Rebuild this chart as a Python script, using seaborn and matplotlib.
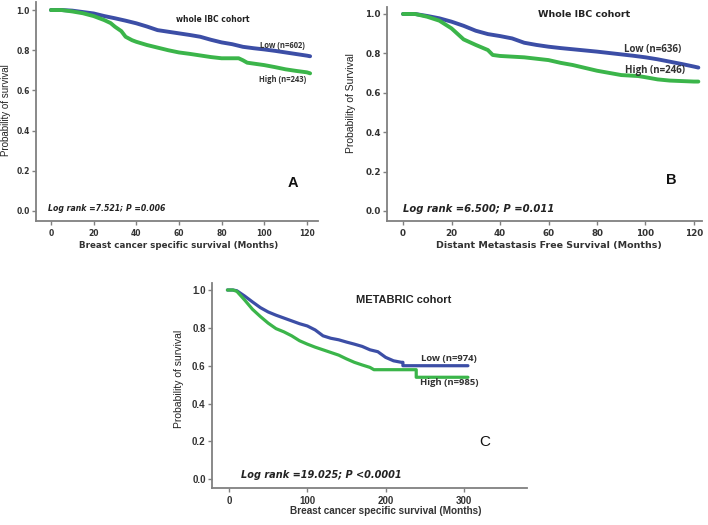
import pandas as pd
import matplotlib
matplotlib.use("Agg")
import matplotlib.pyplot as plt
import seaborn as sns

sns.set_style("ticks")
plt.rcParams['font.family'] = ['DejaVu Sans']

BLUE = '#3c4ea6'
GREEN = '#3bb54a'
GREY = '#808080'

# ---- panel A: whole IBC cohort, breast cancer specific survival
a_low_t = [0, 5, 10, 15, 20, 25, 30, 35, 40, 45, 50, 55, 60, 65, 70, 75, 80, 85, 90, 95, 100, 105, 110, 115, 120, 121.5]
a_low_s = [1.0, 1.0, 0.997, 0.99, 0.983, 0.97, 0.959, 0.947, 0.934, 0.918, 0.90, 0.892, 0.884, 0.876, 0.867, 0.852, 0.839, 0.83, 0.817, 0.81, 0.804, 0.797, 0.789, 0.781, 0.773, 0.77]
a_high_t = [0, 5, 10, 15, 20, 25, 28, 30, 33, 35, 38, 40, 45, 50, 55, 60, 65, 70, 75, 80, 88, 90, 92, 100, 105, 110, 115, 120, 121.5]
a_high_s = [1.0, 1.0, 0.993, 0.984, 0.970, 0.950, 0.935, 0.917, 0.895, 0.867, 0.85, 0.842, 0.826, 0.813, 0.80, 0.789, 0.782, 0.774, 0.766, 0.76, 0.76, 0.75, 0.738, 0.726, 0.716, 0.705, 0.697, 0.69, 0.685]

# ---- panel B: whole IBC cohort, distant metastasis free survival
b_low_t = [0, 5, 10, 15, 20, 25, 30, 35, 40, 45, 50, 55, 60, 65, 70, 75, 80, 85, 90, 95, 100, 105, 110, 115, 120, 121.8]
b_low_s = [1.0, 1.0, 0.99, 0.978, 0.961, 0.94, 0.915, 0.898, 0.888, 0.876, 0.854, 0.843, 0.834, 0.827, 0.821, 0.815, 0.809, 0.802, 0.795, 0.788, 0.78, 0.77, 0.758, 0.746, 0.733, 0.728]
b_high_t = [0, 5, 10, 15, 20, 25, 30, 35, 37, 40, 50, 60, 65, 70, 80, 90, 97, 100, 105, 110, 120, 121.8]
b_high_s = [1.0, 1.0, 0.986, 0.966, 0.927, 0.871, 0.843, 0.817, 0.792, 0.787, 0.78, 0.766, 0.752, 0.741, 0.712, 0.69, 0.685, 0.679, 0.668, 0.662, 0.657, 0.657]

# ---- panel C: METABRIC cohort
c_low_t = [-2, 5, 10, 20, 30, 40, 50, 60, 70, 80, 90, 100, 110, 120, 130, 140, 150, 160, 170, 180, 190, 200, 210, 220, 222, 222, 305]
c_low_s = [1.0, 1.0, 0.996, 0.968, 0.937, 0.907, 0.884, 0.867, 0.852, 0.837, 0.822, 0.81, 0.789, 0.758, 0.745, 0.737, 0.725, 0.714, 0.702, 0.684, 0.674, 0.644, 0.626, 0.618, 0.618, 0.60, 0.60]
c_high_t = [-2, 5, 10, 20, 30, 40, 50, 60, 70, 80, 90, 100, 110, 120, 130, 140, 150, 160, 170, 180, 185, 239, 239, 305]
c_high_s = [1.0, 1.0, 0.993, 0.947, 0.898, 0.86, 0.825, 0.796, 0.779, 0.758, 0.732, 0.714, 0.698, 0.684, 0.67, 0.656, 0.636, 0.618, 0.604, 0.591, 0.579, 0.579, 0.539, 0.539]

y_ticks = [0.0, 0.2, 0.4, 0.6, 0.8, 1.0]


def frame(t_low, s_low, t_high, s_high):
    low = pd.DataFrame({'time': t_low, 'surv': s_low, 'group': 'Low'})
    high = pd.DataFrame({'time': t_high, 'surv': s_high, 'group': 'High'})
    return pd.concat([low, high], ignore_index=True)


def px_axes(fig, left, top, right, bottom):
    W, H = 708, 525
    return fig.add_axes([left / W, 1 - bottom / H, (right - left) / W, (bottom - top) / H])


def style(ax, xlim, ylim, xticks, tickfont, ticksize):
    ax.set_xlim(*xlim)
    ax.set_ylim(*ylim)
    ax.set_xticks(xticks)
    ax.set_yticks(y_ticks)
    ax.set_yticklabels(['%.1f' % v for v in y_ticks])
    for s in ['top', 'right']:
        ax.spines[s].set_visible(False)
    for s in ['left', 'bottom']:
        ax.spines[s].set_color(GREY)
        ax.spines[s].set_linewidth(1.3)
    ax.tick_params(axis='both', colors=GREY, length=3, width=1, labelcolor='#333333')
    ax.tick_params(axis='y', pad=1.5)
    ax.tick_params(axis='x', pad=3)
    for lab in ax.get_xticklabels() + ax.get_yticklabels():
        lab.set_fontfamily(tickfont)
        lab.set_fontweight('bold')
        lab.set_fontsize(ticksize)
    ax.patch.set_alpha(0)


fig = plt.figure(figsize=(7.08, 5.25), dpi=100)
pal = {'Low': BLUE, 'High': GREEN}

# ---------------- A
axA = px_axes(fig, 36, 2, 318, 221)
sns.lineplot(data=frame(a_low_t, a_low_s, a_high_t, a_high_s), x='time', y='surv', hue='group',
             palette=pal, estimator=None, sort=False, legend=False, linewidth=2.8, ax=axA)
style(axA, (-7.0, 125.2), (-0.0498, 1.04), [0, 20, 40, 60, 80, 100, 120], 'DejaVu Sans', 5.5)
axA.set_xlabel('Breast cancer specific survival (Months)', fontsize=6.3, fontweight='bold', color='#333333')
axA.xaxis.set_label_coords(0.507, -0.092)
axA.set_ylabel('Probability of survival', fontsize=7, family='Liberation Sans', color='#222222')
axA.yaxis.set_label_coords(-0.09, 0.507)
axA.text(75.9, 0.955, 'whole IBC cohort', ha='center', va='center', fontsize=5.5, fontweight='bold', color='#222222')
axA.text(108.7, 0.826, 'Low (n=602)', ha='center', va='center', fontsize=5.5, fontweight='bold', family='Open Sans', color='#333333')
axA.text(108.7, 0.652, 'High (n=243)', ha='center', va='center', fontsize=5.5, fontweight='bold', family='Open Sans', color='#333333')
axA.text(113.4, 0.139, 'A', ha='center', va='center', fontsize=10.5, fontweight='bold', family='Liberation Sans', color='#111111')
axA.text(-1.4, 0.012, 'Log rank =7.521; P =0.006', ha='left', va='center', fontsize=5.6, fontweight='bold', style='italic', color='#222222')

# ---------------- B
axB = px_axes(fig, 387, 7, 702, 221)
sns.lineplot(data=frame(b_low_t, b_low_s, b_high_t, b_high_s), x='time', y='surv', hue='group',
             palette=pal, estimator=None, sort=False, legend=False, linewidth=2.8, ax=axB)
style(axB, (-6.6, 123.3), (-0.0508, 1.0355), [0, 20, 40, 60, 80, 100, 120], 'DejaVu Sans', 6.3)
axB.set_xlabel('Distant Metastasis Free Survival (Months)', fontsize=6.8, fontweight='bold', color='#333333')
axB.xaxis.set_label_coords(0.513, -0.095)
axB.set_ylabel('Probability of Survival', fontsize=7.5, family='Liberation Sans', color='#222222')
axB.yaxis.set_label_coords(-0.1, 0.55)
axB.text(74.6, 0.995, 'Whole IBC cohort', ha='center', va='center', fontsize=6.8, fontweight='bold', color='#222222')
axB.text(103.1, 0.822, 'Low (n=636)', ha='center', va='center', fontsize=7, fontweight='bold', family='Open Sans', color='#333333')
axB.text(103.9, 0.711, 'High (n=246)', ha='center', va='center', fontsize=7, fontweight='bold', family='Open Sans', color='#333333')
axB.text(110.5, 0.157, 'B', ha='center', va='center', fontsize=10.5, fontweight='bold', family='Liberation Sans', color='#111111')
axB.text(0, 0.012, 'Log rank =6.500; P =0.011', ha='left', va='center', fontsize=7.2, fontweight='bold', style='italic', color='#222222')

# ---------------- C
axC = px_axes(fig, 212, 283, 527, 488)
sns.lineplot(data=frame(c_low_t, c_low_s, c_high_t, c_high_s), x='time', y='surv', hue='group',
             palette=pal, estimator=None, sort=False, legend=False, linewidth=2.3, ax=axC)
style(axC, (-21.7, 380.4), (-0.046, 1.037), [0, 100, 200, 300], 'Liberation Sans', 7)
axC.set_xlabel('Breast cancer specific survival (Months)', fontsize=7.2, fontweight='bold', family='Liberation Sans', color='#333333')
axC.xaxis.set_label_coords(0.552, -0.09)
axC.set_ylabel('Probability of survival', fontsize=7.5, family='Liberation Sans', color='#222222')
axC.yaxis.set_label_coords(-0.088, 0.53)
axC.text(223.4, 0.946, 'METABRIC cohort', ha='center', va='center', fontsize=8, fontweight='bold', family='Liberation Sans', color='#222222')
axC.text(280.9, 0.639, 'Low (n=974)', ha='center', va='center', fontsize=6.8, fontweight='bold', family='Open Sans', color='#333333')
axC.text(280.9, 0.512, 'High (n=985)', ha='center', va='center', fontsize=6.8, fontweight='bold', family='Open Sans', color='#333333')
axC.text(326.8, 0.195, 'C', ha='center', va='center', fontsize=11, family='Liberation Sans', color='#111111')
axC.text(15.3, 0.021, 'Log rank =19.025; P <0.0001', ha='left', va='center', fontsize=7, fontweight='bold', style='italic', color='#222222')

fig.savefig('out.png', dpi=100, facecolor='white')
